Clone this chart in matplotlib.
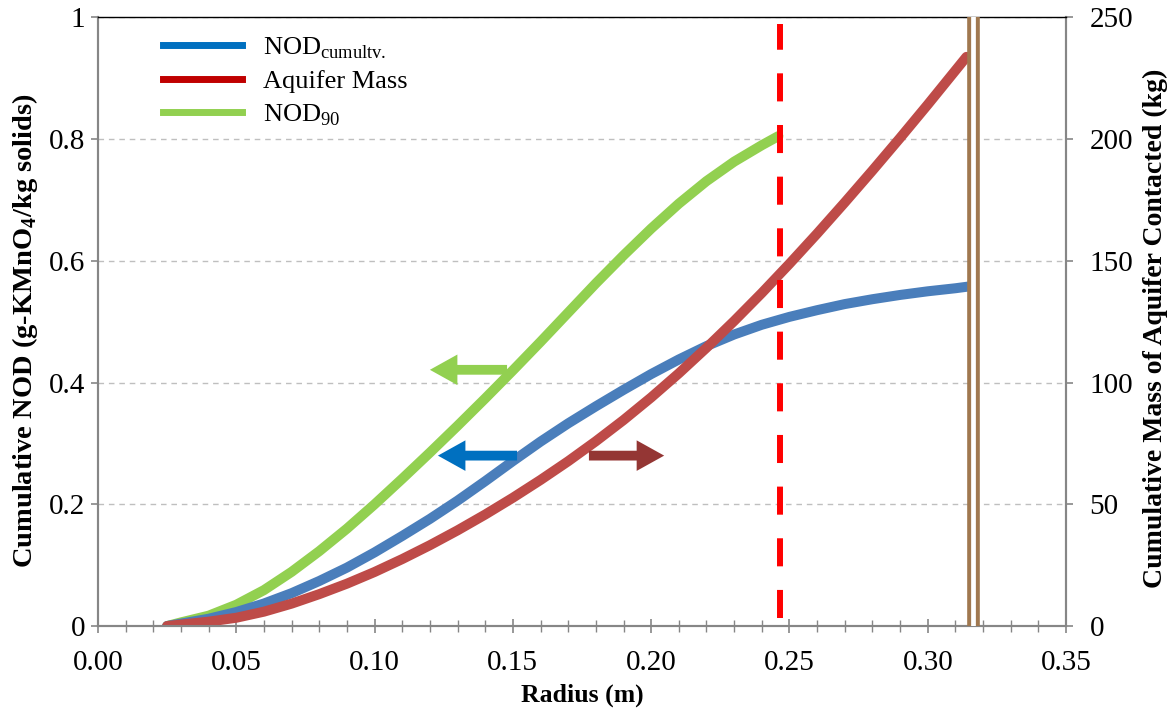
import matplotlib
matplotlib.use("Agg")
import matplotlib.pyplot as plt
from matplotlib.lines import Line2D
from matplotlib.ticker import MultipleLocator

plt.rcParams["font.family"] = "Liberation Serif"
plt.rcParams["mathtext.fontset"] = "custom"
plt.rcParams["mathtext.rm"] = "Liberation Serif"
plt.rcParams["mathtext.bf"] = "Liberation Serif:bold"

# radius (m) and cumulative NOD (g-KMnO4/kg solids)
radius_cum = [0.025, 0.03, 0.04, 0.05, 0.06, 0.07, 0.08, 0.09, 0.10, 0.11,
              0.12, 0.13, 0.14, 0.15, 0.16, 0.17, 0.18, 0.19, 0.20, 0.21,
              0.22, 0.23, 0.24, 0.25, 0.26, 0.27, 0.28, 0.29, 0.30, 0.31, 0.315]
nod_cum = [0.000, 0.004, 0.012, 0.023, 0.037, 0.054, 0.074, 0.096, 0.121, 0.148,
           0.176, 0.206, 0.238, 0.271, 0.303, 0.333, 0.361, 0.388, 0.414, 0.438,
           0.460, 0.479, 0.495, 0.508, 0.519, 0.529, 0.537, 0.544, 0.550, 0.555, 0.558]

# NOD90
radius_90 = [0.025, 0.03, 0.04, 0.05, 0.06, 0.07, 0.08, 0.09, 0.10, 0.11,
             0.12, 0.13, 0.14, 0.15, 0.16, 0.17, 0.18, 0.19, 0.20, 0.21,
             0.22, 0.23, 0.24, 0.246]
nod_90 = [0.000, 0.006, 0.017, 0.035, 0.059, 0.089, 0.123, 0.160, 0.200, 0.242,
          0.285, 0.329, 0.374, 0.420, 0.467, 0.515, 0.563, 0.609, 0.653, 0.694,
          0.731, 0.763, 0.790, 0.805]

# cumulative mass of aquifer contacted (kg)
radius_mass = [0.025, 0.03, 0.04, 0.05, 0.06, 0.07, 0.08, 0.09, 0.10, 0.11,
               0.12, 0.13, 0.14, 0.15, 0.16, 0.17, 0.18, 0.19, 0.20, 0.21,
               0.22, 0.23, 0.24, 0.25, 0.26, 0.27, 0.28, 0.29, 0.30, 0.31, 0.314]
aquifer_mass = [0.0, 0.6, 1.8, 3.4, 5.9, 9.2, 13.1, 17.4, 22.2, 27.5,
                33.2, 39.3, 45.8, 52.7, 60.0, 67.7, 75.9, 84.6, 93.9, 103.8,
                114.3, 125.3, 136.8, 148.8, 161.2, 174.0, 187.1, 200.5, 214.2, 228.2, 233.8]

r_nod90_limit = 0.2465
r_mass_limit = 0.3163

# arrows pointing to the axis each curve belongs to: (tail x, head x, y on left axis)
arrow_green = (0.1479, 0.1200, 0.421)
arrow_blue = (0.1515, 0.1229, 0.280)
arrow_red = (0.1775, 0.2047, 0.280)

gray = "#868686"

fig = plt.figure(figsize=(11.72, 7.11), dpi=100)
ax = fig.add_axes([0.0836, 0.1195, 0.826, 0.856])
ax2 = ax.twinx()

ax.plot(radius_90, nod_90, color="#92D050", lw=7.2, solid_capstyle="round", zorder=2)
ax.plot(radius_cum, nod_cum, color="#4A7EBB", lw=7.2, solid_capstyle="round", zorder=3)
ax2.plot(radius_mass, aquifer_mass, color="#BE4B48", lw=7.2, solid_capstyle="round", zorder=2)

ax2.axvline(r_nod90_limit, ymin=0.013, ymax=0.99, color="#FF0000", lw=4.3,
            dashes=(4.7, 3.95), zorder=4)
ax2.axvline(r_mass_limit, ymin=0.007, ymax=0.993, color="#A0784F", lw=9.1, zorder=5)
ax2.axvline(r_mass_limit, ymin=0.0, ymax=1.0, color="white", lw=3.4, zorder=6)

for (x0, x1, y), c in [(arrow_green, "#92D050"), (arrow_blue, "#0070C0"), (arrow_red, "#943634")]:
    ax2.annotate("", xy=(x1, y), xytext=(x0, y), xycoords=ax.transData,
                 textcoords=ax.transData,
                 arrowprops=dict(arrowstyle="simple,head_width=1.0,head_length=0.9,tail_width=0.32",
                                 color=c, lw=0, mutation_scale=22, shrinkA=0, shrinkB=0),
                 zorder=7)

ax.set_xlim(0, 0.35)
ax.set_ylim(0, 1)
ax2.set_ylim(0, 250)

ax.xaxis.set_minor_locator(MultipleLocator(0.01))
ax.set_xticks([0, 0.05, 0.10, 0.15, 0.20, 0.25, 0.30, 0.35])
ax.set_xticklabels(["0.00", "0.05", "0.10", "0.15", "0.20", "0.25", "0.30", "0.35"])
ax.set_yticks([0, 0.2, 0.4, 0.6, 0.8, 1.0])
ax.set_yticklabels(["0", "0.2", "0.4", "0.6", "0.8", "1"])
ax2.set_yticks([0, 50, 100, 150, 200, 250])

ax.yaxis.grid(True, color="#BFBFBF", lw=1.0, dashes=(4, 3.5))
ax.set_axisbelow(True)

ax.tick_params(axis="x", which="major", direction="inout", length=10, width=1.2,
               color=gray, labelsize=21, pad=12)
ax.tick_params(axis="x", which="minor", direction="inout", length=8, width=1.0, color=gray)
ax.tick_params(axis="y", direction="out", length=5, width=1.2, color=gray,
               labelsize=21, pad=4)
ax2.tick_params(axis="y", direction="out", length=5, width=1.2, color=gray,
                labelsize=21, pad=12)

for a in (ax, ax2):
    for side in ("left", "right", "bottom"):
        a.spines[side].set_color(gray)
        a.spines[side].set_linewidth(1.5)
ax.spines["top"].set_visible(False)
ax2.spines["top"].set_color("black")
ax2.spines["top"].set_linewidth(1.0)

ax.set_xlabel("Radius (m)", fontsize=18.5, fontweight="bold")
ax.xaxis.set_label_coords(0.5, -0.094)
ax.set_ylabel("Cumulative NOD (g-KMnO$_\\mathbf{4}$/kg solids)", fontsize=20.5,
              fontweight="bold")
ax.yaxis.set_label_coords(-0.060, 0.485)
ax2.set_ylabel("Cumulative Mass of Aquifer Contacted (kg)", fontsize=20,
               fontweight="bold")
ax2.yaxis.set_label_coords(1.079, 0.49)

handles = [Line2D([], [], color="#0070C0", lw=5),
           Line2D([], [], color="#C00000", lw=5),
           Line2D([], [], color="#92D050", lw=5)]
labels = ["NOD$_\\mathrm{cumultv.}$", "Aquifer Mass", "NOD$_\\mathrm{90}$"]
ax2.legend(handles, labels, loc="upper left", bbox_to_anchor=(0.067, 0.971),
           frameon=False, fontsize=19, handlelength=3.0, handletextpad=0.8,
           labelspacing=0.35, borderaxespad=0, borderpad=0)

fig.savefig("out.png", dpi=100)
